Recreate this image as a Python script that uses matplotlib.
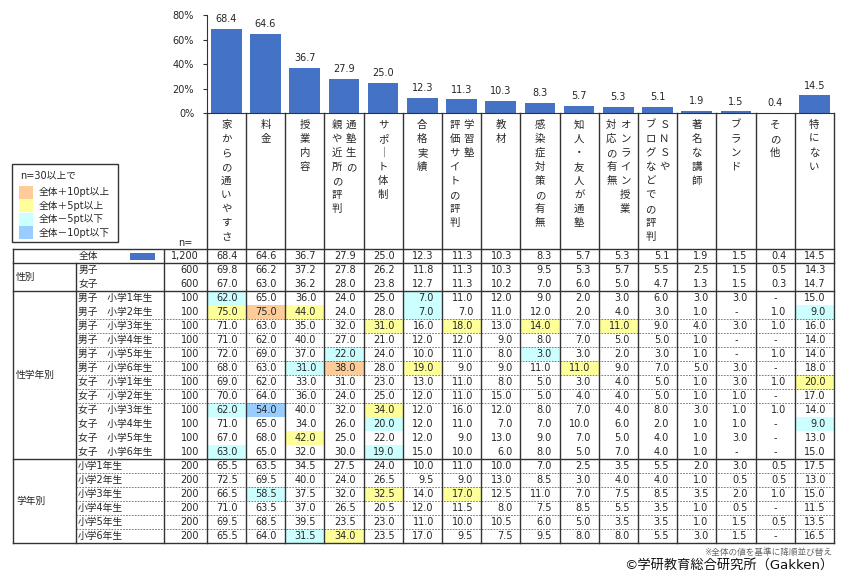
import matplotlib.pyplot as plt
from matplotlib.patches import Rectangle

plt.rcParams['font.family'] = ['DejaVu Sans', 'Noto Sans CJK JP']

# 項目（縦書きヘッダー：右列, 左列）
categories = ['家からの通いやすさ', '料金', '授業内容', '通塾生の親や近所の評判', 'サポート体制',
              '合格実績', '学習塾評価サイトの評判', '教材', '感染症対策の有無', '知人・友人が通塾',
              'オンライン授業対応の有無', 'SNSやブログなどでの評判', '著名な講師', 'ブランド',
              'その他', '特にない']
header_cols = [['家からの通いやすさ'], ['料金'], ['授業内容'], ['通塾生の', '親や近所の評判'],
               ['サポ｜ト体制'], ['合格実績'], ['学習塾', '評価サイトの評判'], ['教材'],
               ['感染症対策の有無'], ['知人・友人が通塾'], ['オンライン授業', '対応の有無'],
               ['ＳＮＳや', 'ブログなどでの評判'], ['著名な講師'], ['ブランド'], ['その他'], ['特にない']]

overall_n = 1200
overall = [68.4, 64.6, 36.7, 27.9, 25.0, 12.3, 11.3, 10.3, 8.3, 5.7, 5.3, 5.1, 1.9, 1.5, 0.4, 14.5]

gender_labels = ['男子', '女子']
gender_n = [600, 600]
gender_vals = [
    [69.8, 66.2, 37.2, 27.8, 26.2, 11.8, 11.3, 10.3, 9.5, 5.3, 5.7, 5.5, 2.5, 1.5, 0.5, 14.3],
    [67.0, 63.0, 36.2, 28.0, 23.8, 12.7, 11.3, 10.2, 7.0, 6.0, 5.0, 4.7, 1.3, 1.5, 0.3, 14.7],
]

sexgrade_labels = ['男子　小学1年生', '男子　小学2年生', '男子　小学3年生', '男子　小学4年生',
                   '男子　小学5年生', '男子　小学6年生', '女子　小学1年生', '女子　小学2年生',
                   '女子　小学3年生', '女子　小学4年生', '女子　小学5年生', '女子　小学6年生']
sexgrade_n = [100] * 12
sexgrade_vals = [
    [62.0, 65.0, 36.0, 24.0, 25.0, 7.0, 11.0, 12.0, 9.0, 2.0, 3.0, 6.0, 3.0, 3.0, None, 15.0],
    [75.0, 75.0, 44.0, 24.0, 28.0, 7.0, 7.0, 11.0, 12.0, 2.0, 4.0, 3.0, 1.0, None, 1.0, 9.0],
    [71.0, 63.0, 35.0, 32.0, 31.0, 16.0, 18.0, 13.0, 14.0, 7.0, 11.0, 9.0, 4.0, 3.0, 1.0, 16.0],
    [71.0, 62.0, 40.0, 27.0, 21.0, 12.0, 12.0, 9.0, 8.0, 7.0, 5.0, 5.0, 1.0, None, None, 14.0],
    [72.0, 69.0, 37.0, 22.0, 24.0, 10.0, 11.0, 8.0, 3.0, 3.0, 2.0, 3.0, 1.0, None, 1.0, 14.0],
    [68.0, 63.0, 31.0, 38.0, 28.0, 19.0, 9.0, 9.0, 11.0, 11.0, 9.0, 7.0, 5.0, 3.0, None, 18.0],
    [69.0, 62.0, 33.0, 31.0, 23.0, 13.0, 11.0, 8.0, 5.0, 3.0, 4.0, 5.0, 1.0, 3.0, 1.0, 20.0],
    [70.0, 64.0, 36.0, 24.0, 25.0, 12.0, 11.0, 15.0, 5.0, 4.0, 4.0, 5.0, 1.0, 1.0, None, 17.0],
    [62.0, 54.0, 40.0, 32.0, 34.0, 12.0, 16.0, 12.0, 8.0, 7.0, 4.0, 8.0, 3.0, 1.0, 1.0, 14.0],
    [71.0, 65.0, 34.0, 26.0, 20.0, 12.0, 11.0, 7.0, 7.0, 10.0, 6.0, 2.0, 1.0, 1.0, None, 9.0],
    [67.0, 68.0, 42.0, 25.0, 22.0, 12.0, 9.0, 13.0, 9.0, 7.0, 5.0, 4.0, 1.0, 3.0, None, 13.0],
    [63.0, 65.0, 32.0, 30.0, 19.0, 15.0, 10.0, 6.0, 8.0, 5.0, 7.0, 4.0, 1.0, None, None, 15.0],
]

grade_labels = ['小学1年生', '小学2年生', '小学3年生', '小学4年生', '小学5年生', '小学6年生']
grade_n = [200] * 6
grade_vals = [
    [65.5, 63.5, 34.5, 27.5, 24.0, 10.0, 11.0, 10.0, 7.0, 2.5, 3.5, 5.5, 2.0, 3.0, 0.5, 17.5],
    [72.5, 69.5, 40.0, 24.0, 26.5, 9.5, 9.0, 13.0, 8.5, 3.0, 4.0, 4.0, 1.0, 0.5, 0.5, 13.0],
    [66.5, 58.5, 37.5, 32.0, 32.5, 14.0, 17.0, 12.5, 11.0, 7.0, 7.5, 8.5, 3.5, 2.0, 1.0, 15.0],
    [71.0, 63.5, 37.0, 26.5, 20.5, 12.0, 11.5, 8.0, 7.5, 8.5, 5.5, 3.5, 1.0, 0.5, None, 11.5],
    [69.5, 68.5, 39.5, 23.5, 23.0, 11.0, 10.0, 10.5, 6.0, 5.0, 3.5, 3.5, 1.0, 1.5, 0.5, 13.5],
    [65.5, 64.0, 31.5, 34.0, 23.5, 17.0, 9.5, 7.5, 9.5, 8.0, 8.0, 5.5, 3.0, 1.5, None, 16.5],
]

legend_labels = ['全体＋10pt以上', '全体＋5pt以上', '全体－5pt以下', '全体－10pt以下']
legend_colors = ['#FFCC99', '#FFFF99', '#CCFFFF', '#99CCFF']
bar_color = '#4472C4'
line_col = '#333333'
txt_col = '#262626'

# レイアウト（ピクセル）
W, H = 858, 582
X0, CW = 206.7, 39.2
NCOL = len(categories)
XR = X0 + NCOL * CW
TL, XG, XN = 13.3, 75.7, 164.3
YT, RH = 249.0, 14.0
Y0, Y80 = 113.3, 15.0

fig = plt.figure(figsize=(W / 100, H / 100), dpi=100)
tab = fig.add_axes([0, 0, 1, 1])
tab.set_xlim(0, W)
tab.set_ylim(H, 0)
tab.axis('off')


def hl_color(v, base):
    if v is None:
        return None
    d = round(v - base, 1)
    if d >= 10:
        return legend_colors[0]
    if d >= 5:
        return legend_colors[1]
    if d <= -10:
        return legend_colors[3]
    if d <= -5:
        return legend_colors[2]
    return None


rows = [('全体', overall_n, overall, False)]
rows += [(l, n, v, False) for l, n, v in zip(gender_labels, gender_n, gender_vals)]
rows += [(l, n, v, True) for l, n, v in zip(sexgrade_labels, sexgrade_n, sexgrade_vals)]
rows += [(l, n, v, True) for l, n, v in zip(grade_labels, grade_n, grade_vals)]

for i, (label, n, vals, mark) in enumerate(rows):
    yt = YT + i * RH
    yc = yt + RH / 2
    tab.text(XG + 2.5 if i > 0 else 78.5, yc, label, ha='left', va='center',
             fontsize=7, color=txt_col)
    tab.text(199, yc, f'{n:,}', ha='right', va='center', fontsize=7, color=txt_col)
    for k, v in enumerate(vals):
        c = hl_color(v, overall[k]) if mark else None
        if c:
            tab.add_patch(Rectangle((X0 + k * CW, yt), CW, RH, facecolor=c, edgecolor='none', zorder=0))
        if v is None:
            tab.text(X0 + (k + 0.5) * CW, yc, '-', ha='center', va='center', fontsize=7, color=txt_col)
        else:
            tab.text(X0 + (k + 1) * CW - 8, yc, f'{v:.1f}', ha='right', va='center',
                     fontsize=7, color=txt_col)

# 全体の凡例マーク
tab.add_patch(Rectangle((130, YT + 3.5), 25, 7, facecolor=bar_color, edgecolor='none'))

# 罫線
n_rows = len(rows)
yb = YT + n_rows * RH
for yy in [YT, YT + RH, YT + 3 * RH, YT + 15 * RH, yb]:
    tab.plot([TL, XR], [yy, yy], color=line_col, lw=1.0)
for k in range(NCOL + 1):
    tab.plot([X0 + k * CW] * 2, [Y0, yb], color=line_col, lw=1.0)
tab.plot([TL, TL], [YT, yb], color=line_col, lw=1.0)
tab.plot([XG, XG], [YT + RH, yb], color=line_col, lw=1.0)
tab.plot([XN, XN], [YT + 1, yb], color=line_col, lw=1.0)
dash_rows = list(range(4, 11)) + list(range(15, 20))
for r in dash_rows:
    yy = YT + (r + 1) * RH
    tab.plot([XG, XR], [yy, yy], color='#666666', lw=0.6, ls=(0, (2, 1.5)), zorder=1)

# グループ見出し
tab.text(16, YT + 2 * RH, '性別', ha='left', va='center', fontsize=7, color=txt_col)
tab.text(16, YT + 9 * RH, '性学年別', ha='left', va='center', fontsize=7, color=txt_col)
tab.text(16, YT + 18 * RH, '学年別', ha='left', va='center', fontsize=7, color=txt_col)
tab.text(185, 242.5, 'n=', ha='center', va='center', fontsize=7, color=txt_col)

# 縦書きヘッダー
for k, cols in enumerate(header_cols):
    cx = X0 + (k + 0.5) * CW
    xs = [cx] if len(cols) == 1 else [cx + 7, cx - 7]
    for x, s in zip(xs, cols):
        for j, ch in enumerate(s):
            tab.text(x, 125 + j * 14, ch, ha='center', va='center', fontsize=7.5,
                     color=txt_col, family=['Noto Sans CJK JP', 'DejaVu Sans'])

# 凡例ボックス
tab.add_patch(Rectangle((12.3, 164.3), 106, 78, facecolor='white', edgecolor=line_col, lw=1.0))
tab.text(20, 175.5, 'n=30以上で', ha='left', va='center', fontsize=7, color=txt_col)
for j, (lab, c) in enumerate(zip(legend_labels, legend_colors)):
    yc = 192.3 + j * 13.4
    tab.add_patch(Rectangle((19, yc - 6.5), 14, 13, facecolor=c, edgecolor='none'))
    tab.text(38.3, yc, lab, ha='left', va='center', fontsize=7, color=txt_col)

# 注記
tab.text(832, 553, '※全体の値を基準に降順並び替え', ha='right', va='center', fontsize=6.2,
         color='#666666')
tab.text(833, 565.5, '©学研教育総合研究所（Gakken）', ha='right', va='center', fontsize=9.5,
         color='#111111')

# 棒グラフ
ax = fig.add_axes([X0 / W, 1 - Y0 / H, (XR - X0) / W, (Y0 - Y80) / H])
ax.set_facecolor('none')
x = range(NCOL)
ax.bar(x, overall, width=0.78, color=bar_color)
for i, v in enumerate(overall):
    ax.annotate(f'{v:.1f}', (i, v), xytext=(0, 3.5), textcoords='offset points',
                ha='center', va='bottom', fontsize=7, color=txt_col)
ax.set_xlim(-0.5, NCOL - 0.5)
ax.set_ylim(0, 80)
ax.set_yticks([0, 20, 40, 60, 80])
ax.set_yticklabels([f'{t}%' for t in [0, 20, 40, 60, 80]], fontsize=7, color=txt_col)
ax.set_xticks([])
ax.spines['top'].set_visible(False)
ax.spines['right'].set_visible(False)
ax.spines['left'].set_color(line_col)
ax.spines['bottom'].set_color(line_col)
ax.tick_params(axis='y', length=3, width=0.8, colors=line_col, labelcolor=txt_col, pad=6)

fig.savefig('out.png', dpi=100)
